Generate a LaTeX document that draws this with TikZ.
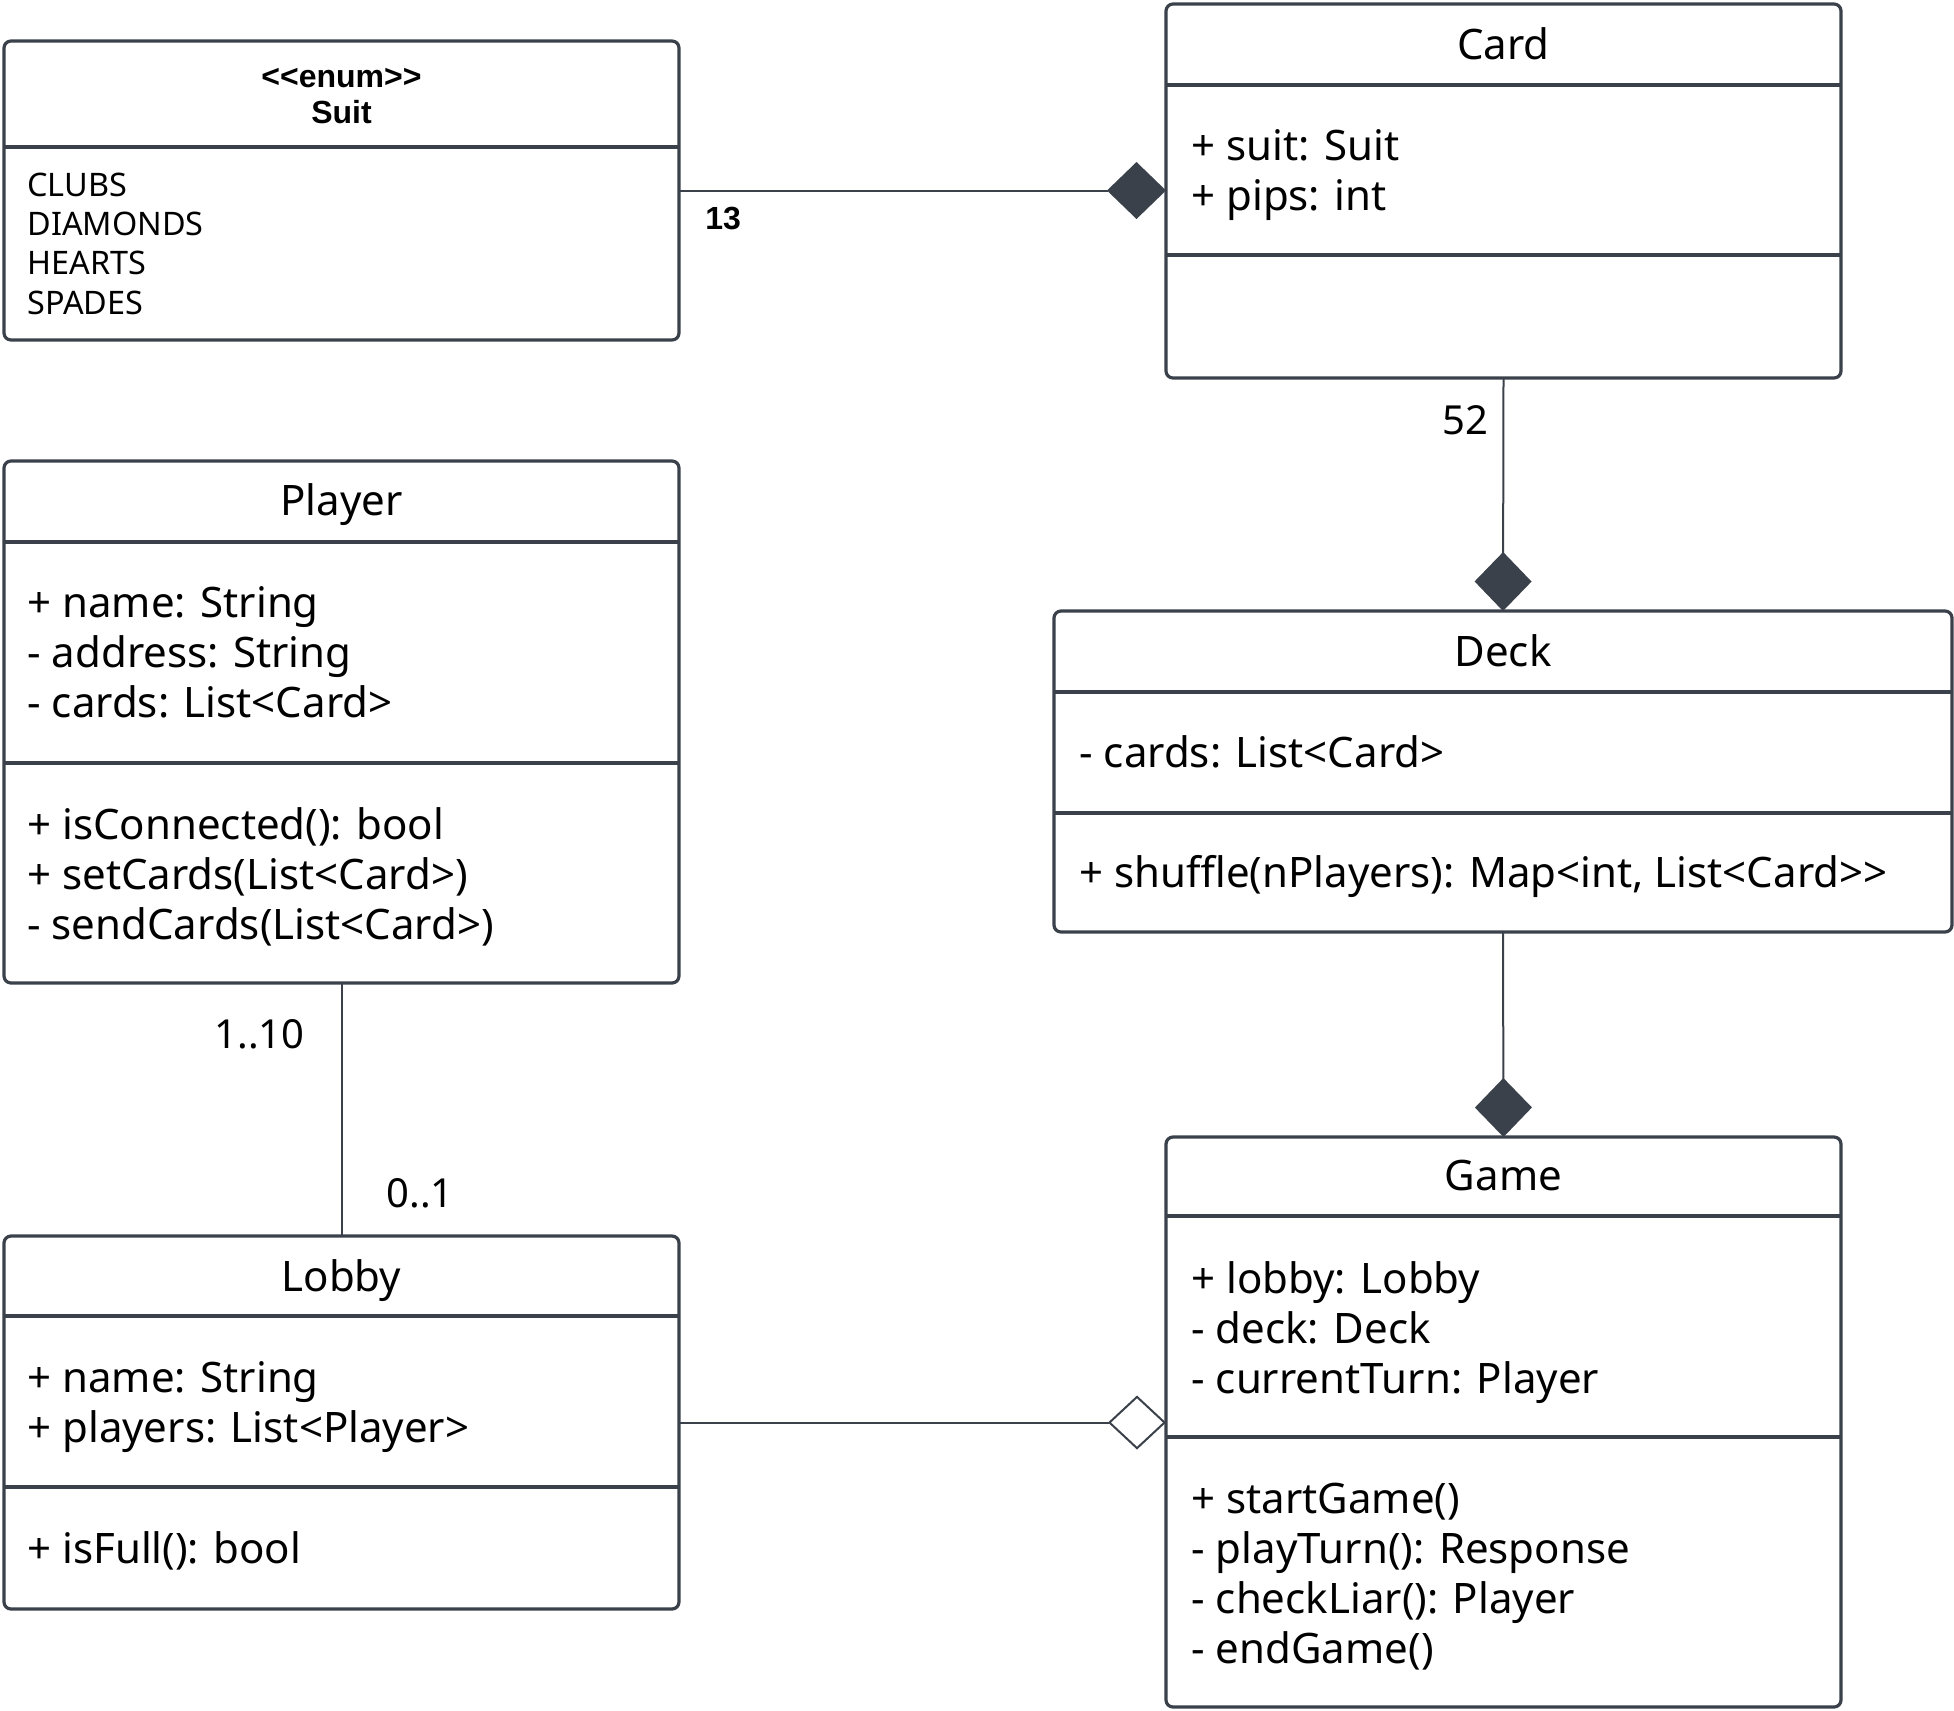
\documentclass[tikz,border=0pt]{standalone}
\usepackage{fontspec}
\setmainfont{Noto Sans}
\newfontfamily\headfont{Liberation Sans}
\usetikzlibrary{arrows.meta}
\definecolor{umlgray}{HTML}{3B414B}
\tikzset{
  classbox/.style = {draw=umlgray, line width=1.6pt, rounded corners=3.5pt, inner sep=0pt, outer sep=0pt},
  divider/.style = {draw=umlgray, line width=1.6pt},
  title/.style = {anchor=base, inner sep=0pt, font=\fontsize{21}{25}\selectfont},
  member/.style = {anchor=base west, inner sep=0pt, font=\fontsize{21}{25}\selectfont},
  enumtext/.style = {anchor=base west, inner sep=0pt, font=\fontsize{16.2}{19}\selectfont},
  enumhead/.style = {anchor=base, inner sep=0pt, font=\headfont\bfseries\fontsize{16}{19}\selectfont},
  mult/.style = {inner sep=0pt, font=\fontsize{20}{25}\selectfont},
  link/.style = {draw=umlgray, line width=1pt},
  compose/.style = {link, -{Diamond[length=29.5pt, width=28.5pt, fill=umlgray]}},
  aggregate/.style = {link, -{Diamond[length=29pt, width=27pt, open, fill=white]}}
}
\begin{document}
\begin{tikzpicture}[x=0.5pt, y=-0.5pt]
  \useasboundingbox (0,0) rectangle (1954,1710);
  % boxes
  \node[classbox, minimum width=337.5pt, minimum height=149.5pt] (suit) at (341.5,190.5) {};
  \node[classbox, minimum width=337.5pt, minimum height=187pt] (card) at (1503.5,191) {};
  \node[classbox, minimum width=337.5pt, minimum height=261pt] (player) at (341.5,722) {};
  \node[classbox, minimum width=449pt, minimum height=160.5pt] (deck) at (1503,771.5) {};
  \node[classbox, minimum width=337.5pt, minimum height=186.5pt] (lobby) at (341.5,1422.5) {};
  \node[classbox, minimum width=337.5pt, minimum height=285pt] (game) at (1503.5,1422) {};
  % compartments
  \draw[divider] (suit.west |- 0,147) -- (suit.east |- 0,147);
  \draw[divider] (card.west |- 0,85) -- (card.east |- 0,85);
  \draw[divider] (card.west |- 0,255) -- (card.east |- 0,255);
  \draw[divider] (player.west |- 0,542) -- (player.east |- 0,542);
  \draw[divider] (player.west |- 0,763) -- (player.east |- 0,763);
  \draw[divider] (deck.west |- 0,692) -- (deck.east |- 0,692);
  \draw[divider] (deck.west |- 0,813) -- (deck.east |- 0,813);
  \draw[divider] (lobby.west |- 0,1316) -- (lobby.east |- 0,1316);
  \draw[divider] (lobby.west |- 0,1487) -- (lobby.east |- 0,1487);
  \draw[divider] (game.west |- 0,1216) -- (game.east |- 0,1216);
  \draw[divider] (game.west |- 0,1437) -- (game.east |- 0,1437);
  % Suit
  \node[enumhead] (suit-st) at (341.5,87) {<{}<enum>{}>};
  \node[enumhead] (suit-name) at (341.5,123) {Suit};
  \foreach \txt [count=\i] in {CLUBS, DIAMONDS, HEARTS, SPADES}
    \node[enumtext] (suit-v\i) at (27,{157+39.3*\i}) {\txt};
  % Card
  \node[title] (card-name) at (1503.5,59) {Card};
  \foreach \txt [count=\i] in {{+ suit: Suit}, {+ pips: int}}
    \node[member] (card-a\i) at (1191,{110+50*\i}) {\txt};
  % Deck
  \node[title] (deck-name) at (1503,666) {Deck};
  \node[member] (deck-a1) at (1079,767) {- cards: List<Card>};
  \node[member] (deck-m1) at (1079,887) {+ shuffle(nPlayers): Map<int, List<Card>{}>};
  % Player
  \node[title] (player-name) at (341.5,515) {Player};
  \foreach \txt [count=\i] in {{+ name: String}, {- address: String}, {- cards: List<Card>}}
    \node[member] (player-a\i) at (27,{567+50*\i}) {\txt};
  \foreach \txt [count=\i] in {{+ isConnected(): bool}, {+ setCards(List<Card>)}, {- sendCards(List<Card>)}}
    \node[member] (player-m\i) at (27,{789+50*\i}) {\txt};
  % Lobby
  \node[title] (lobby-name) at (341.5,1291) {Lobby};
  \foreach \txt [count=\i] in {{+ name: String}, {+ players: List<Player>}}
    \node[member] (lobby-a\i) at (27,{1342+50*\i}) {\txt};
  \node[member] (lobby-m1) at (27,1563) {+ isFull(): bool};
  % Game
  \node[title] (game-name) at (1503.5,1190) {Game};
  \foreach \txt [count=\i] in {{+ lobby: Lobby}, {- deck: Deck}, {- currentTurn: Player}}
    \node[member] (game-a\i) at (1191,{1243+50*\i}) {\txt};
  \foreach \txt [count=\i] in {{+ startGame()}, {- playTurn(): Response}, {- checkLiar(): Player}, {- endGame()}}
    \node[member] (game-m\i) at (1191,{1463+50*\i}) {\txt};
  % associations
  \draw[compose] (suit.east) -- (suit.east -| card.west);
  \draw[compose] (card.south) -- (deck.north);
  \draw[compose] (deck.south) -- (game.north);
  \draw[link] (player.south) -- (lobby.north);
  \draw[aggregate] (lobby.east) -- (lobby.east -| game.west);
  % multiplicities
  \node[mult, anchor=base west, font=\headfont\bfseries\fontsize{16}{19}\selectfont] (m13) at (705,229) {13};
  \node[mult, anchor=base east] (m52) at (1489,434) {52};
  \node[mult, anchor=base east] (m110) at (305,1048) {1..10};
  \node[mult, anchor=base west] (m01) at (386,1207) {0..1};
\end{tikzpicture}
\end{document}
